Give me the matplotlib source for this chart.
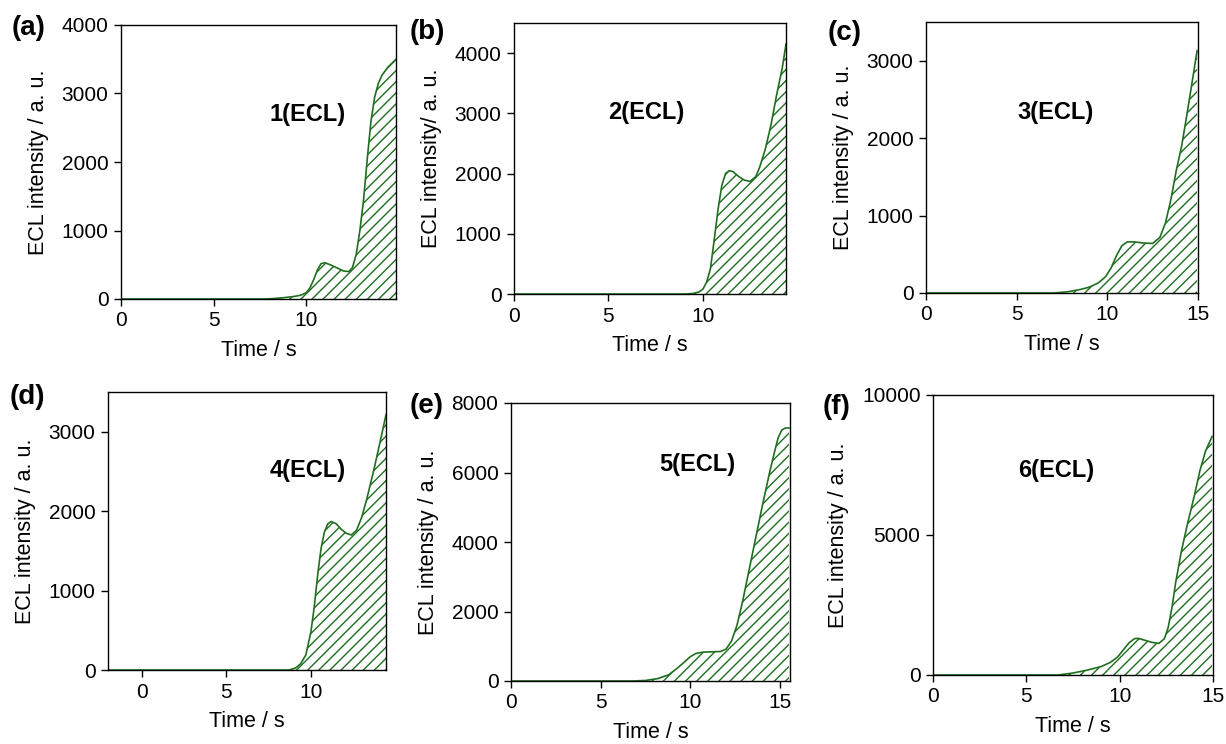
import matplotlib
matplotlib.use("Agg")
import matplotlib.pyplot as plt

plt.rcParams['font.family'] = ['Liberation Sans', 'DejaVu Sans']
plt.rcParams['hatch.linewidth'] = 1.0

GREEN = '#1f6e1f'

# ECL transients, time (s) vs intensity (a. u.)
t1 = [0, 7.8, 8.3, 8.8, 9.3, 9.7, 10.0, 10.2, 10.4, 10.6, 10.8, 11.0, 11.3, 11.7,
      12.0, 12.3, 12.5, 12.7, 12.9, 13.1, 13.3, 13.5, 13.7, 13.9, 14.1, 14.4, 14.85]
v1 = [0, 0, 8, 20, 35, 55, 90, 160, 280, 420, 515, 530, 500, 450,
      410, 400, 460, 650, 1000, 1450, 2050, 2600, 2950, 3150, 3270, 3380, 3500]

t2 = [0, 9.1, 9.5, 9.8, 10.0, 10.2, 10.4, 10.6, 10.8, 11.0, 11.2, 11.4, 11.6,
      11.9, 12.2, 12.5, 12.8, 13.0, 13.3, 13.6, 13.9, 14.2, 14.4]
v2 = [0, 0, 10, 35, 80, 200, 420, 900, 1400, 1800, 2000, 2050, 2030,
      1950, 1890, 1870, 1950, 2100, 2400, 2800, 3300, 3750, 4150]

t3 = [0, 7.0, 7.8, 8.5, 9.0, 9.5, 9.9, 10.2, 10.5, 10.8, 11.1, 11.5, 12.0,
      12.5, 12.9, 13.2, 13.5, 13.8, 14.1, 14.4, 14.7, 14.95]
v3 = [0, 0, 15, 45, 75, 130, 210, 320, 480, 610, 660, 660, 645,
      640, 720, 900, 1200, 1580, 1900, 2320, 2760, 3130]

t4 = [-2, 8.7, 9.1, 9.4, 9.7, 10.0, 10.2, 10.4, 10.6, 10.8, 11.0, 11.2, 11.5,
      11.8, 12.1, 12.4, 12.7, 13.0, 13.3, 13.7, 14.1, 14.44]
v4 = [0, 0, 25, 80, 190, 480, 800, 1200, 1530, 1740, 1840, 1870, 1840,
      1770, 1720, 1700, 1760, 1920, 2150, 2500, 2880, 3215]

t5 = [0, 6.8, 7.5, 8.2, 8.8, 9.3, 9.7, 10.0, 10.3, 10.7, 11.2, 11.7, 12.0,
      12.3, 12.6, 12.9, 13.2, 13.6, 14.0, 14.4, 14.7, 14.9, 15.1, 15.3, 15.5]
v5 = [0, 0, 15, 70, 180, 380, 560, 700, 790, 830, 840, 850, 920,
      1150, 1600, 2250, 3000, 4000, 5000, 5950, 6600, 7000, 7220, 7280, 7280]

t6 = [0, 6.7, 7.5, 8.3, 9.0, 9.5, 9.9, 10.2, 10.5, 10.8, 11.0, 11.3, 11.7,
      12.1, 12.4, 12.6, 12.8, 13.0, 13.3, 13.6, 14.0, 14.3, 14.6, 14.95]
v6 = [0, 0, 70, 180, 300, 450, 650, 900, 1150, 1300, 1310, 1250, 1170,
      1130, 1300, 1700, 2400, 3300, 4400, 5300, 6400, 7300, 8000, 8520]

W, H = 1226, 744
fig = plt.figure(figsize=(W / 100, H / 100), dpi=100)

# (left, top, right, bottom) of each frame in pixels
boxes = [(121, 25, 396, 299), (514, 23, 786, 294), (926, 22, 1198, 293),
         (108, 392, 386, 670), (511, 403, 790, 681), (933, 395, 1213, 675)]
series = [(t1, v1), (t2, v2), (t3, v3), (t4, v4), (t5, v5), (t6, v6)]
xlims = [(0, 14.85), (0, 14.4), (0, 15), (-2, 14.44), (0, 15.56), (0, 15)]
ylims = [(0, 4000), (0, 4500), (0, 3500), (0, 3500), (0, 8000), (0, 10000)]
yticks = [[0, 1000, 2000, 3000, 4000], [0, 1000, 2000, 3000, 4000],
          [0, 1000, 2000, 3000], [0, 1000, 2000, 3000],
          [0, 2000, 4000, 6000, 8000], [0, 5000, 10000]]
xticks = [[0, 5, 10], [0, 5, 10], [0, 5, 10, 15], [0, 5, 10], [0, 5, 10, 15], [0, 5, 10, 15]]
ylabels = ['ECL intensity / a. u.', 'ECL intensity/ a. u.', 'ECL intensity / a. u.',
           'ECL intensity / a. u.', 'ECL intensity / a. u.', 'ECL intensity / a. u.']
names = ['1(ECL)', '2(ECL)', '3(ECL)', '4(ECL)', '5(ECL)', '6(ECL)']
name_pos = [(308, 114), (646, 112), (1056, 112), (308, 470), (697, 464), (1056, 470)]
letters = ['(a)', '(b)', '(c)', '(d)', '(e)', '(f)']
letter_pos = [(12, 28), (410, 32), (828, 33), (10, 397), (410, 406), (823, 407)]

for i in range(6):
    l, t, r, b = boxes[i]
    ax = fig.add_axes([l / W, 1 - b / H, (r - l) / W, (b - t) / H])
    x, y = series[i]
    ax.fill_between(x, y, 0, facecolor='none', edgecolor=GREEN, hatch='///', linewidth=0)
    ax.plot(x, y, color=GREEN, lw=1.2)
    ax.set_xlim(*xlims[i])
    ax.set_ylim(*ylims[i])
    ax.set_xticks(xticks[i])
    ax.set_yticks(yticks[i])
    ax.tick_params(direction='out', length=5, width=1, labelsize=15, pad=4,
                   top=False, right=False)
    for s in ax.spines.values():
        s.set_linewidth(1.0)
    ax.set_xlabel('Time / s', fontsize=15.5, labelpad=7)
    ax.set_ylabel(ylabels[i], fontsize=15.5, labelpad=9)
    nx, ny = name_pos[i]
    fig.text(nx / W, 1 - ny / H, names[i], fontsize=17, fontweight='bold',
             ha='center', va='center')
    lx, ly = letter_pos[i]
    fig.text(lx / W, 1 - ly / H, letters[i], fontsize=20, fontweight='bold',
             ha='left', va='center')

fig.savefig('out.png', dpi=100)
